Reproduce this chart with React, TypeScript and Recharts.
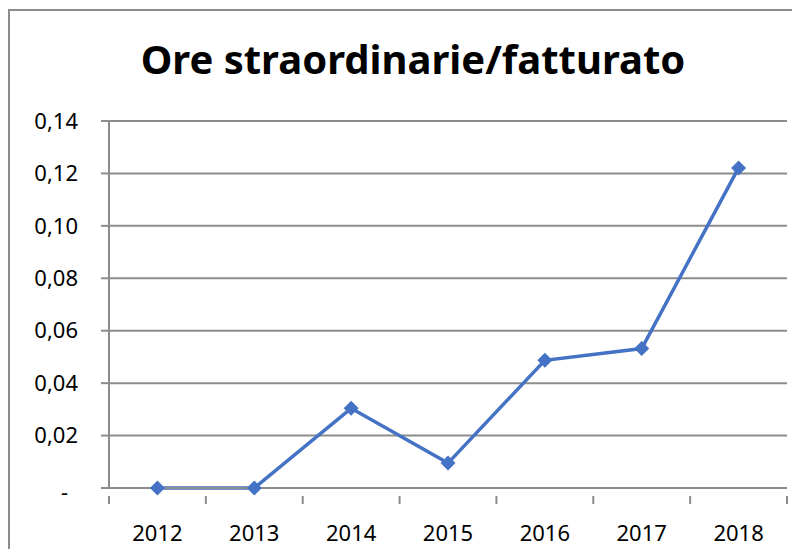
import { LineChart, Line, XAxis, YAxis, CartesianGrid } from "recharts";

const years = ["2012", "2013", "2014", "2015", "2016", "2017", "2018"];
const ratio = [0, 0, 0.0304, 0.0095, 0.0487, 0.0532, 0.1221];
const yTicks = [0, 0.02, 0.04, 0.06, 0.08, 0.1, 0.12, 0.14];

const data = years.map((year, i) => ({ year, ratio: ratio[i] }));

const AXIS = "#8c8c8c";
const BLUE = "#4472C4";
const FONT = "'Noto Sans', 'Open Sans', sans-serif";

const fmt = (v: number) => (v === 0 ? "-" : v.toFixed(2).replace(".", ","));

const YTick = (props: any) => {
  const { x, y, payload } = props;
  const v = payload.value;
  return (
    <text
      x={v === 0 ? x - 10 : x}
      y={v === 0 ? y + 4 : y}
      dy="0.35em"
      textAnchor="end"
      fontSize={22}
      fontFamily={FONT}
      fill="#000"
    >
      {fmt(v)}
    </text>
  );
};

const XTick = (props: any) => {
  const { x, y, payload, index } = props;
  const off = payload.offset || 0;
  return (
    <g>
      {index === 0 && <line x1={x - off} x2={x - off} y1={y} y2={y + 8} stroke={AXIS} strokeWidth={2} />}
      <line x1={x + off} x2={x + off} y1={y} y2={y + 8} stroke={AXIS} strokeWidth={2} />
      <text x={x} y={y + 37} dy="0.35em" textAnchor="middle" fontSize={22} fontFamily={FONT} fill="#000">
        {payload.value}
      </text>
    </g>
  );
};

const Diamond = (props: any) => {
  const { cx, cy } = props;
  if (cx == null || cy == null) return null;
  const r = 7.5;
  return <polygon points={`${cx},${cy - r} ${cx + r},${cy} ${cx},${cy + r} ${cx - r},${cy}`} fill={BLUE} />;
};

export default function App() {
  return (
    <div style={{ position: "relative", width: 792, height: 541, background: "#fff", overflow: "hidden" }}>
      <div
        style={{
          position: "absolute",
          left: 0,
          top: 1,
          width: 800,
          height: 600,
          borderLeft: `2px solid ${AXIS}`,
          borderTop: `2px solid ${AXIS}`,
        }}
      />
      <div
        style={{
          position: "absolute",
          left: 0,
          top: 26,
          width: 810,
          textAlign: "center",
          fontFamily: FONT,
          fontWeight: 700,
          fontSize: 40,
          lineHeight: "50px",
          color: "#000",
        }}
      >
        Ore straordinarie/fatturato
      </div>
      <LineChart width={792} height={541} data={data} margin={{ top: 113, right: 13, bottom: 0, left: 0 }}>
        <CartesianGrid vertical={false} stroke={AXIS} strokeWidth={2} />
        <XAxis
          dataKey="year"
          scale="band"
          height={61}
          axisLine={{ stroke: AXIS, strokeWidth: 2 }}
          tickLine={false}
          tick={<XTick />}
          interval={0}
        />
        <YAxis
          width={101}
          domain={[0, 0.14]}
          ticks={yTicks}
          axisLine={{ stroke: AXIS, strokeWidth: 2 }}
          tickLine={{ stroke: AXIS, strokeWidth: 2 }}
          tickSize={8}
          tickMargin={23}
          tick={<YTick />}
          interval={0}
        />
        <Line
          type="linear"
          dataKey="ratio"
          stroke={BLUE}
          strokeWidth={3.5}
          dot={<Diamond />}
          activeDot={false}
          isAnimationActive={false}
        />
      </LineChart>
    </div>
  );
}
